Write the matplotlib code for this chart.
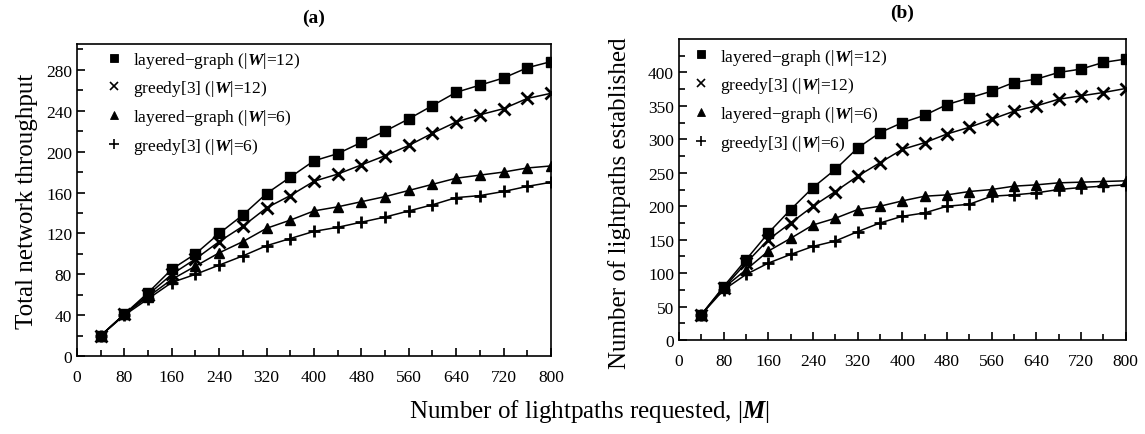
import matplotlib
matplotlib.use('Agg')
import matplotlib.pyplot as plt
from matplotlib.lines import Line2D
import numpy as np

plt.rcParams['font.family'] = ['Liberation Serif', 'DejaVu Serif']
plt.rcParams['mathtext.fontset'] = 'custom'
plt.rcParams['mathtext.rm'] = 'Liberation Serif'
plt.rcParams['mathtext.it'] = 'Liberation Serif:italic'
plt.rcParams['mathtext.bf'] = 'Liberation Serif:bold'
plt.rcParams['mathtext.bfit'] = 'Liberation Serif:italic:bold'

# number of lightpaths requested
requests = [40, 80, 120, 160, 200, 240, 280, 320, 360, 400,
            440, 480, 520, 560, 600, 640, 680, 720, 760, 800]

# (a) total network throughput
thr_layered_12 = [20, 41, 62, 85, 100, 120, 138, 159, 175, 191,
                  198, 209, 220, 232, 245, 258, 265, 272, 282, 288]
thr_greedy_12 = [20, 41, 60, 80, 95, 112, 127, 145, 157, 171,
                 178, 187, 196, 206, 218, 229, 236, 242, 252, 257]
thr_layered_6 = [20, 41, 58, 75, 88, 101, 112, 125, 133, 142,
                 146, 151, 156, 162, 168, 174, 177, 180, 184, 186]
thr_greedy_6 = [20, 40, 56, 72, 80, 89, 98, 108, 115, 122,
                126, 131, 136, 142, 148, 155, 157, 161, 166, 170]

# (b) number of lightpaths established
est_layered_12 = [38, 80, 120, 160, 195, 228, 255, 287, 310, 325,
                  336, 352, 362, 372, 385, 390, 400, 405, 415, 420]
est_greedy_12 = [38, 78, 115, 150, 175, 200, 222, 245, 265, 285,
                 295, 308, 318, 330, 342, 350, 360, 365, 370, 376]
est_layered_6 = [38, 78, 105, 133, 152, 172, 182, 195, 200, 208,
                 215, 217, 222, 225, 230, 232, 235, 236, 237, 238]
est_greedy_6 = [38, 75, 98, 115, 128, 140, 148, 162, 175, 185,
                190, 200, 203, 215, 217, 220, 225, 228, 230, 232]

labels = [r'layered$-$graph ($|\mathbfit{W}|$=12)',
          r'greedy[3] ($|\mathbfit{W}|$=12)',
          r'layered$-$graph ($|\mathbfit{W}|$=6)',
          r'greedy[3] ($|\mathbfit{W}|$=6)']
markers = [('s', 6.5, 1.0), ('x', 8, 2.0), ('^', 7.5, 1.0), ('+', 9, 2.0)]

fig = plt.figure(figsize=(11.45, 4.35), dpi=100)
ax1 = fig.add_axes([0.0672, 0.179, 0.414, 0.717])
ax2 = fig.add_axes([0.593, 0.216, 0.390, 0.692])


def draw(ax, series, ymax, ystep, yminor, leg_x, leg_y):
    for ys, (m, ms, mew) in zip(series, markers):
        ax.plot(requests, ys, color='black', lw=1.1, marker=m, ms=ms,
                mew=mew, mfc='black', mec='black')
    handles = [Line2D([], [], ls='none', marker=m, ms=ms * 0.8, mew=mew * 0.6,
                      color='black') for (m, ms, mew) in markers]
    ax.legend(handles, labels, loc='upper left', frameon=False, fontsize=12.5,
              handlelength=1.0, handletextpad=0.6, labelspacing=0.5,
              borderaxespad=0.0, bbox_to_anchor=(leg_x, leg_y))
    ax.set_xlim(0, 800)
    ax.set_ylim(0, ymax)
    ax.set_xticks(np.arange(0, 801, 80))
    ax.set_xticks(np.arange(40, 801, 80), minor=True)
    ax.set_yticks(np.arange(0, ymax, ystep))
    ax.set_yticks(np.arange(0, ymax, yminor), minor=True)
    ax.tick_params(which='both', direction='in', labelsize=12.5, width=1.2)
    ax.tick_params(which='major', length=6)
    ax.tick_params(which='minor', length=4)
    ax.tick_params(axis='x', pad=9)
    for s in ax.spines.values():
        s.set_linewidth(1.2)


draw(ax1, [thr_layered_12, thr_greedy_12, thr_layered_6, thr_greedy_6],
     305, 40, 20, 0.045, 1.005)
draw(ax2, [est_layered_12, est_greedy_12, est_layered_6, est_greedy_6],
     450, 50, 25, 0.015, 0.998)

ax1.set_ylabel('Total network throughput', fontsize=18, labelpad=6)
ax2.set_ylabel('Number of lightpaths established', fontsize=18, labelpad=6)
ax2.yaxis.set_label_coords(-0.108, 0.458)
ax1.set_title('(a)', fontsize=14, fontweight='bold', pad=16)
ax2.set_title('(b)', fontsize=14, fontweight='bold', pad=16)

fig.text(0.515, 0.053, r'Number of lightpaths requested, $|\mathbfit{M}|$',
         ha='center', va='center', fontsize=18)

fig.savefig('out.png', dpi=100)
